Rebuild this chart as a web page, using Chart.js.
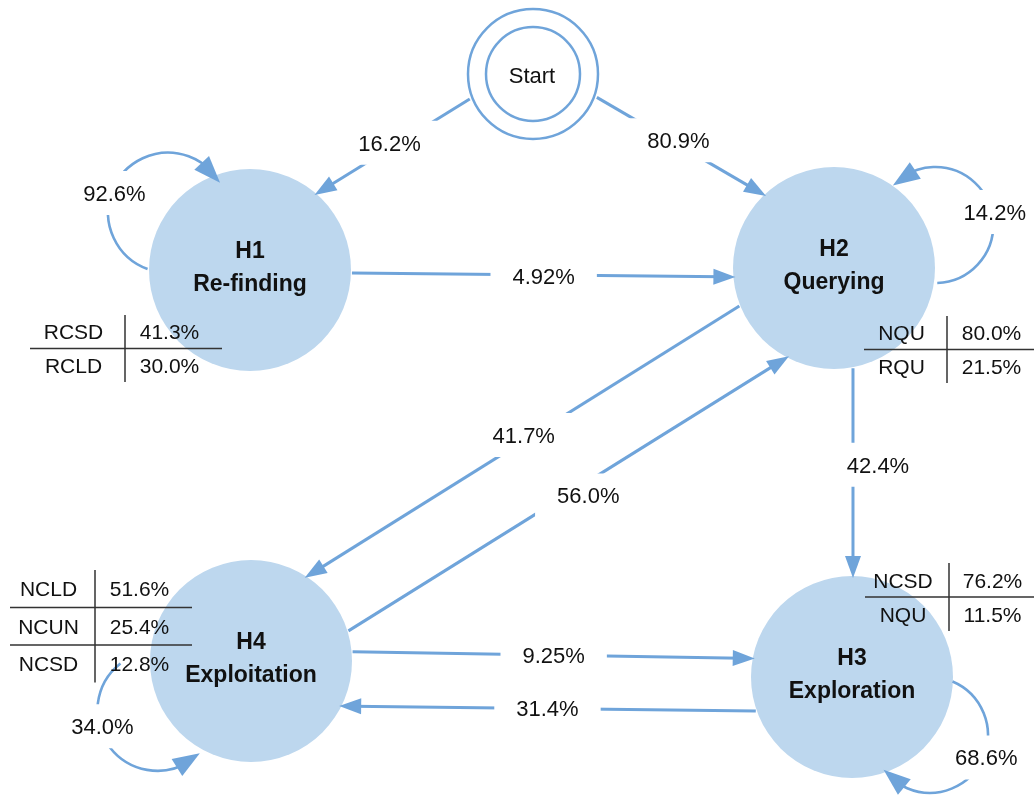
<!DOCTYPE html>
<html>
<head>
<meta charset="utf-8">
<script src="https://cdn.jsdelivr.net/npm/chart.js@4.4.1/dist/chart.umd.min.js"></script>
<style>
  html, body { margin: 0; background: #fff; }
</style>
</head>
<body>
<canvas id="flow" width="1034" height="797"></canvas>
<script>
// states of the search model
const states = ['H1', 'H2', 'H3', 'H4'];
const stateNames = ['Re-finding', 'Querying', 'Exploration', 'Exploitation'];

// transitions (percent)
const edgeFrom = ['Start', 'Start', 'H1', 'H2', 'H4', 'H2', 'H4', 'H3'];
const edgeTo = ['H1', 'H2', 'H2', 'H4', 'H2', 'H3', 'H3', 'H4'];
const edgeValues = [16.2, 80.9, 4.92, 41.7, 56.0, 42.4, 9.25, 31.4];

// staying in the same state, H1..H4
const loopValues = [92.6, 14.2, 68.6, 34.0];

// breakdown tables next to each state, H1..H4
const tableCodes = [['RCSD', 'RCLD'], ['NQU', 'RQU'], ['NCSD', 'NQU'], ['NCLD', 'NCUN', 'NCSD']];
const tableValues = [[41.3, 30.0], [80.0, 21.5], [76.2, 11.5], [51.6, 25.4, 12.8]];

// ---- layout (axis units, the axes span the canvas 1:1) ----
const nodePos = { Start: [533, 74], H1: [250, 270], H2: [834, 268], H3: [852, 677], H4: [251, 661] };
const nodeR = { Start: 67, H1: 101, H2: 101, H3: 101, H4: 101 };
// offset at source, offset at target, label position along line, label shift
const edgeShape = [
  [12, 30, 0.5, 5],
  [-12, -28, 0.47, -4],
  [2, 10, 0.5, 1],
  [18, 42, 0.49, 5],
  [26, 51, 0.53, 12],
  [-19, -1, 0.46, -25],
  [-11, -17, 0.5, 0],
  [-35, -44, 0.5, 0]
];
// direction, distance, radius, start angle, end angle, anticlockwise, label angle
const loopShape = [
  [215, 100, 60, 110, 330, false, 199],
  [-23, 110, 58, 88, -137, true, -13],
  [36.6, 97, 58, -67, 143, false, 23],
  [152, 106, 60, 232, 45, true, 165]
];
// divider x, top, left, right, row height
const tableShape = [
  [125, 315, 30, 222, 33.5],
  [947, 316, 864, 1044, 33.5],
  [949, 563, 865, 1044, 34],
  [95, 570, 10, 192, 37.5]
];

const lineBlue = '#6fa4da';
const nodeBlue = '#bdd7ee';
const FONT = '"Liberation Sans", Arial, sans-serif';
const fmt = v => v.toPrecision(3) + '%';
const rad = d => d * Math.PI / 180;

function arrowHead(ctx, tx, ty, dx, dy, len, half) {
  const bx = tx - dx * len, by = ty - dy * len;
  ctx.beginPath();
  ctx.moveTo(tx, ty);
  ctx.lineTo(bx - dy * half, by + dx * half);
  ctx.lineTo(bx + dy * half, by - dx * half);
  ctx.closePath();
  ctx.fill();
}

const diagram = {
  id: 'diagram',
  afterDatasetsDraw(chart) {
    const ctx = chart.ctx;
    const xs = chart.scales.x, ys = chart.scales.y;
    const P = (x, y) => [xs.getPixelForValue(x), ys.getPixelForValue(y)];
    const k = xs.getPixelForValue(1) - xs.getPixelForValue(0);

    ctx.save();
    ctx.font = '22px ' + FONT;

    // straight edges
    const lines = [], labels = [];
    edgeValues.forEach((v, i) => {
      const a = nodePos[edgeFrom[i]], b = nodePos[edgeTo[i]];
      let ux = b[0] - a[0], uy = b[1] - a[1];
      const L = Math.hypot(ux, uy); ux /= L; uy /= L;
      const nx = -uy, ny = ux;
      const [o1, o2, t, sh] = edgeShape[i];
      const p0 = [a[0] + nx * o1, a[1] + ny * o1];
      const p1 = [b[0] + nx * o2, b[1] + ny * o2];
      let dx = p1[0] - p0[0], dy = p1[1] - p0[1];
      const D = Math.hypot(dx, dy); dx /= D; dy /= D;
      const hit = (c, R, s) => {
        const wx = p0[0] - c[0], wy = p0[1] - c[1];
        const bb = wx * dx + wy * dy, cc = wx * wx + wy * wy - R * R;
        return -bb + s * Math.sqrt(bb * bb - cc);
      };
      const t0 = hit(a, nodeR[edgeFrom[i]] + 1, 1);
      const t1 = hit(b, nodeR[edgeTo[i]] - 2, -1);
      const s = [p0[0] + dx * t0, p0[1] + dy * t0];
      const e = [p0[0] + dx * t1, p0[1] + dy * t1];
      const tm = t0 + (t1 - t0) * t;
      const lx = p0[0] + dx * tm - dy * sh, ly = p0[1] + dy * tm + dx * sh;
      lines.push({ s: P(s[0], s[1]), e: P(e[0], e[1]), dx, dy });
      labels.push({ text: fmt(v), at: P(lx, ly) });
    });

    // self loops
    const loops = [];
    loopValues.forEach((v, i) => {
      const c = nodePos[states[i]];
      const [dir, dist, r, a0, a1, ccw, la] = loopShape[i];
      const cx = c[0] + dist * Math.cos(rad(dir)), cy = c[1] + dist * Math.sin(rad(dir));
      loops.push({ c: P(cx, cy), r: r * k, a0: rad(a0), a1: rad(a1), ccw });
      labels.push({ text: fmt(v), at: P(cx + r * Math.cos(rad(la)) + 3, cy + r * Math.sin(rad(la))) });
    });

    // cut the lines where the labels sit
    ctx.beginPath();
    ctx.rect(0, 0, chart.width, chart.height);
    labels.forEach(l => {
      const w = ctx.measureText(l.text).width + 44;
      ctx.rect(l.at[0] - w / 2, l.at[1] - 22, w, 44);
    });
    ctx.save();
    ctx.clip('evenodd');

    ctx.strokeStyle = lineBlue;
    ctx.fillStyle = lineBlue;
    ctx.lineCap = 'butt';
    ctx.lineWidth = 3;
    lines.forEach(l => {
      const len = 22;
      ctx.beginPath();
      ctx.moveTo(l.s[0], l.s[1]);
      ctx.lineTo(l.e[0] - l.dx * len * 0.6, l.e[1] - l.dy * len * 0.6);
      ctx.stroke();
      arrowHead(ctx, l.e[0], l.e[1], l.dx, l.dy, len, 8);
    });

    ctx.lineWidth = 2.6;
    loops.forEach(o => {
      const sg = o.ccw ? -1 : 1, len = 27;
      ctx.beginPath();
      ctx.arc(o.c[0], o.c[1], o.r, o.a0, o.a1 - sg * (len * 0.5) / o.r, o.ccw);
      ctx.stroke();
      const tx = o.c[0] + o.r * Math.cos(o.a1), ty = o.c[1] + o.r * Math.sin(o.a1);
      const ba = o.a1 - sg * len / o.r;
      const bx = o.c[0] + o.r * Math.cos(ba), by = o.c[1] + o.r * Math.sin(ba);
      const d = Math.hypot(tx - bx, ty - by);
      arrowHead(ctx, tx, ty, (tx - bx) / d, (ty - by) / d, len, 10);
    });
    ctx.restore();

    // percent labels
    ctx.fillStyle = '#111';
    ctx.textAlign = 'center';
    ctx.textBaseline = 'alphabetic';
    labels.forEach(l => ctx.fillText(l.text, l.at[0], l.at[1] + 22 * 0.358));

    // start label
    const sp = P(nodePos.Start[0] - 1, nodePos.Start[1] + 1);
    ctx.fillText('Start', sp[0], sp[1] + 22 * 0.358);

    // state labels
    ctx.font = 'bold 23px ' + FONT;
    states.forEach((s, i) => {
      const c = P(nodePos[s][0], nodePos[s][1]);
      ctx.fillText(s, c[0], c[1] - 12 * k);
      ctx.fillText(stateNames[i], c[0], c[1] + 21 * k);
    });

    // tables
    ctx.font = '21px ' + FONT;
    ctx.strokeStyle = '#333';
    ctx.lineWidth = 1.5;
    tableCodes.forEach((codes, i) => {
      const [dv, top, left, right, rh] = tableShape[i];
      const n = codes.length;
      const a = P(dv, top), b = P(dv, top + n * rh);
      ctx.beginPath();
      ctx.moveTo(a[0], a[1]); ctx.lineTo(b[0], b[1]);
      for (let r = 1; r < n; r++) {
        const l = P(left, top + r * rh), q = P(right, top + r * rh);
        ctx.moveTo(l[0], l[1]); ctx.lineTo(q[0], q[1]);
      }
      ctx.stroke();
      codes.forEach((code, r) => {
        const c1 = P((left + dv) / 2 - 4, top + (r + 0.5) * rh);
        const c2 = P((dv + right) / 2 - 4, top + (r + 0.5) * rh);
        ctx.fillText(code, c1[0], c1[1] + 21 * 0.358);
        ctx.fillText(fmt(tableValues[i][r]), c2[0], c2[1] + 21 * 0.358);
      });
    });
    ctx.restore();
  }
};

const xy = name => ({ x: nodePos[name][0], y: nodePos[name][1] });

new Chart(document.getElementById('flow'), {
  type: 'scatter',
  data: {
    datasets: [
      { data: [xy('Start')], pointRadius: 47, pointBackgroundColor: '#fff',
        pointBorderColor: lineBlue, pointBorderWidth: 2.5 },
      { data: [xy('Start')], pointRadius: 65, pointBackgroundColor: '#fff',
        pointBorderColor: lineBlue, pointBorderWidth: 2.5 },
      { data: states.map(xy), pointRadius: 101, pointBackgroundColor: nodeBlue,
        pointBorderWidth: 0 }
    ]
  },
  options: {
    responsive: false,
    animation: false,
    events: [],
    layout: { padding: 0, autoPadding: false },
    plugins: { legend: { display: false }, tooltip: { enabled: false } },
    scales: {
      x: { type: 'linear', min: 0, max: 1034, display: false },
      y: { type: 'linear', min: 0, max: 797, reverse: true, display: false }
    }
  },
  plugins: [diagram]
});
</script>
</body>
</html>
